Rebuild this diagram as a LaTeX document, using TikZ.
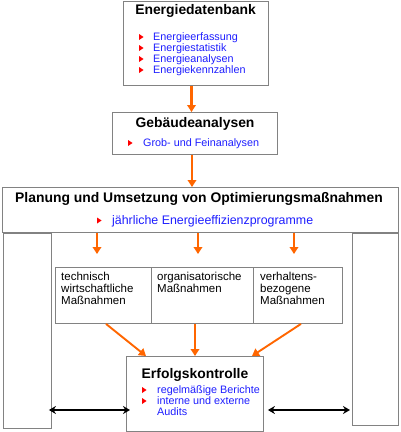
\documentclass[tikz,border=0pt]{standalone}
\usepackage{fontspec}
\setmainfont{Liberation Sans}
\usetikzlibrary{arrows.meta}
\definecolor{arr}{RGB}{255,102,0}
\definecolor{tblue}{RGB}{30,30,255}
\definecolor{bord}{RGB}{130,130,130}
\begin{document}
\begin{tikzpicture}[x=1pt,y=-1pt,
  box/.style={draw=bord,line width=0.9pt,inner sep=0pt,anchor=north west},
  ttl/.style={font=\fontsize{13.9}{15}\selectfont\bfseries,inner sep=0pt,anchor=base},
  itm/.style={font=\fontsize{10.8}{12}\selectfont,text=tblue,inner sep=0pt,anchor=base west},
  big/.style={font=\fontsize{12.4}{14}\selectfont,text=tblue,inner sep=0pt,anchor=base west},
  cell/.style={font=\fontsize{11.5}{12}\selectfont,inner sep=0pt,anchor=base west},
  oarr/.style={draw=arr,line width=2.3pt,-{Triangle[width=8.5pt,length=7pt]}},
  barr/.style={draw=black,line width=2.2pt,{Stealth[length=7pt,width=8pt]}-{Stealth[length=7pt,width=8pt]}},
  bul/.pic={\fill[red] (-2,-3)--(2.6,0)--(-2,3)--cycle;}]
\useasboundingbox (0,0) rectangle (400,432);
\fill[white] (0,0) rectangle (400,432);
% boxes
\node[box,minimum width=145pt,minimum height=84pt] (db) at (123,1) {};
\node[box,minimum width=165pt,minimum height=42pt] (geb) at (112,112) {};
\node[box,minimum width=396pt,minimum height=45pt] (plan) at (1.5,187) {};
\node[box,minimum width=48pt,minimum height=195pt] (lbox) at (3,233) {};
\node[box,minimum width=46pt,minimum height=192pt] (rbox) at (352,233) {};
\node[box,minimum width=96pt,minimum height=56pt] (c1) at (55,267) {};
\node[box,minimum width=102pt,minimum height=56pt] (c2) at (151,267) {};
\node[box,minimum width=89pt,minimum height=56pt] (c3) at (253,267) {};
\node[box,minimum width=137pt,minimum height=75pt] (erf) at (126,356) {};
% box 1 text
\node[ttl] (dbt) at (195.5,14.5) {Energiedatenbank};
\node[itm] (db1) at (153,40.5) {Energieerfassung};
\node[itm] (db2) at (153,51.7) {Energiestatistik};
\node[itm] (db3) at (153,62.7) {Energieanalysen};
\node[itm] (db4) at (153,73.7) {Energiekennzahlen};
\pic at (141,37) {bul};
\pic at (141,48) {bul};
\pic at (141,59) {bul};
\pic at (141,70) {bul};
% box 2 text
\node[ttl] (gebt) at (195,127.5) {Gebäudeanalysen};
\node[itm] (geb1) at (143,146.7) {Grob- und Feinanalysen};
\pic at (130,143) {bul};
% box 3 text
\node[ttl] (plant) at (199,202) {Planung und Umsetzung von Optimierungsmaßnahmen};
\node[big] (plan1) at (112,224.8) {jährliche Energieeffizienzprogramme};
\pic at (99,220.5) {bul};
% cells
\node[cell] (t1a) at (61,280.5) {technisch};
\node[cell] (t1b) at (61,292.5) {wirtschaftliche};
\node[cell] (t1c) at (61,304.5) {Maßnahmen};
\node[cell] (t2a) at (157,280.5) {organisatorische};
\node[cell] (t2b) at (157,292.5) {Maßnahmen};
\node[cell] (t3a) at (260,280.5) {verhaltens-};
\node[cell] (t3b) at (260,292.5) {bezogene};
\node[cell] (t3c) at (260,304.5) {Maßnahmen};
% Erfolgskontrolle text
\node[ttl] (erft) at (195,378.5) {Erfolgskontrolle};
\node[itm] (erf1) at (157,393.5) {regelmäßige Berichte};
\node[itm] (erf2) at (157,404.5) {interne und externe};
\node[itm] (erf3) at (157,415.5) {Audits};
\pic at (144,390) {bul};
\pic at (144,401) {bul};
% arrows
\coordinate (x191) at (191.5,0);
\coordinate (x192) at (192,0);
\draw[oarr] (db.south -| x191) -- (geb.north -| x191);
\draw[oarr] (geb.south -| x192) -- (plan.north -| x192);
\coordinate (a1) at (97,254);
\coordinate (a2) at (198,254);
\coordinate (a3) at (294,254);
\draw[oarr] (plan.south -| a1) -- (a1);
\draw[oarr] (plan.south -| a2) -- (a2);
\draw[oarr] (plan.south -| a3) -- (a3);
\coordinate (s1) at (106,0);
\coordinate (s2) at (195,0);
\coordinate (s3) at (301,0);
\coordinate (e1) at (146,0);
\coordinate (e3) at (252,0);
\draw[oarr,line width=1.9pt] (c1.south -| s1) -- (erf.north -| e1);
\draw[oarr,line width=1.9pt] (c2.south -| s2) -- (erf.north -| s2);
\draw[oarr,line width=1.9pt] (c3.south -| s3) -- (erf.north -| e3);
% black double arrows
\coordinate (ly) at (0,410);
\draw[barr] ([xshift=-3pt]lbox.east |- ly) -- ([xshift=4pt]erf.west |- ly);
\draw[barr] ([xshift=4pt]erf.east |- ly) -- ([xshift=-2pt]rbox.west |- ly);
\end{tikzpicture}
\end{document}
